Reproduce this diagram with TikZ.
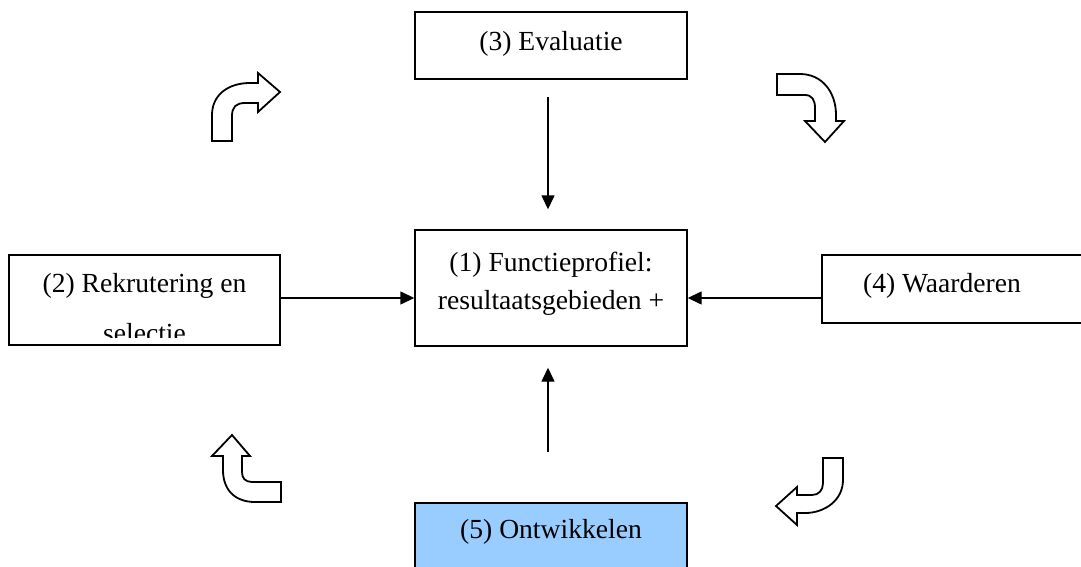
\documentclass[tikz,border=0pt]{standalone}
\usepackage{fontspec}
\setmainfont{Liberation Serif}
\usetikzlibrary{arrows.meta,calc}
\definecolor{boxblue}{HTML}{99CCFF}
\begin{document}
\begin{tikzpicture}[x=0.5pt,y=-0.5pt,
  box/.style={draw=black,line width=0.7pt,rectangle,inner sep=0pt},
  lbl/.style={anchor=base,inner sep=0pt,font=\fontsize{13.8pt}{18pt}\selectfont},
  arr/.style={line width=0.7pt,-{Triangle[length=7pt,width=6.5pt]}},
  blockarrow/.style={draw=black,line width=0.9pt,fill=white,line join=miter}]
\useasboundingbox (0,0) rectangle (1081,567);
\clip (0,0) rectangle (1081,567);
% boxes
\node[box,minimum width=136pt,minimum height=33.5pt] (b3) at (551,45.5) {};
\node[box,minimum width=136pt,minimum height=58pt] (b1) at (551,288) {};
\node[box,minimum width=135.5pt,minimum height=45pt] (b2) at (144.5,300) {};
\node[box,minimum width=136pt,minimum height=34pt] (b4) at (958,289) {};
\node[box,fill=boxblue,minimum width=136pt,minimum height=33.5pt] (b5) at (551,536.5) {};
% labels
\node[lbl] (t3) at (551,51) {(3) Evaluatie};
\node[lbl] (t1a) at (551,271) {(1) Functieprofiel:};
\node[lbl] (t1b) at (551,309) {resultaatsgebieden +};
\node[lbl] (t2a) at (144.5,292) {(2) Rekrutering en};
\begin{scope}
\clip (10,256) rectangle (279,337);
\node[lbl] (t2b) at (144.5,342) {selectie};
\end{scope}
\node[lbl] (t4) at (942,292) {(4) Waarderen};
\node[lbl] (t5) at (551,538) {(5) Ontwikkelen};
% connectors
\draw[arr] ($(b3.south)+(-3,17)$) -- ($(b1.north)+(-3,-20)$);
\draw[arr] ($(b5.north)+(-3,-50)$) -- ($(b1.south)+(-3,21)$);
\draw[arr] (b2.east |- 0,298) -- (b1.west |- 0,298);
\draw[arr] (b4.west |- 0,298) -- (b1.east |- 0,298);
% block arrows
\draw[blockarrow] (212,141) -- (212,115) .. controls (212,95) and (228,83) .. (250,83)
  -- (258,83) -- (258,73) -- (280,92) -- (258,112) -- (258,103) -- (245,103)
  .. controls (236,103) and (232,107) .. (232,116) -- (232,141) -- cycle;
\draw[blockarrow] (777,74) -- (800,74) .. controls (822,74) and (836,92) .. (836,115)
  -- (836,121) -- (844,121) -- (825,142) -- (805,121) -- (815,121) -- (815,108)
  .. controls (815,100) and (812,95) .. (805,95) -- (777,95) -- cycle;
\draw[blockarrow] (232,435) -- (250,456) -- (242,456) -- (242,472)
  .. controls (242,478) and (245,482) .. (252,482) -- (281,482) -- (281,502) -- (255,502)
  .. controls (235,502) and (223,490) .. (223,470) -- (223,456) -- (212,456) -- cycle;
\draw[blockarrow] (823,458) -- (843,458) -- (843,480)
  .. controls (843,500) and (825,513) .. (805,513) -- (797,513) -- (797,525) -- (776,506)
  -- (797,487) -- (797,495) -- (812,495) .. controls (819,495) and (823,490) .. (823,483) -- cycle;
\end{tikzpicture}
\end{document}
